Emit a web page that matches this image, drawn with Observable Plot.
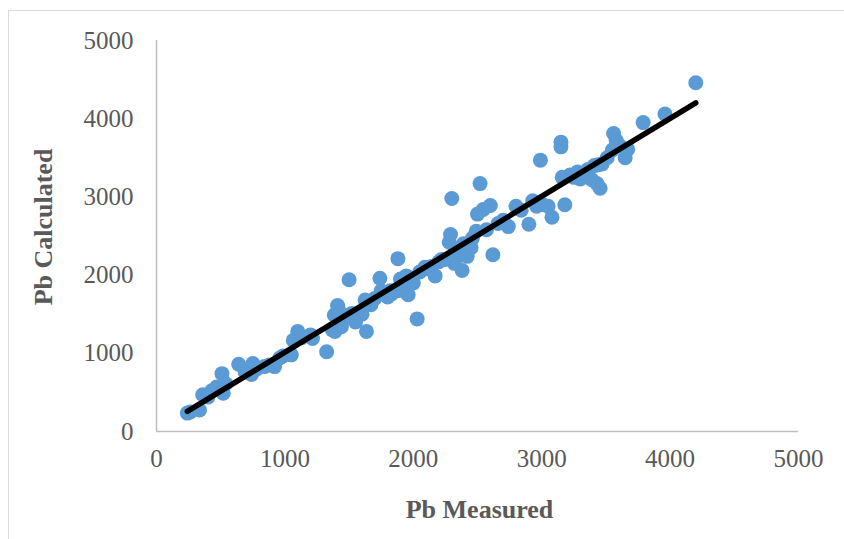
<!DOCTYPE html>
<html>
<head>
<meta charset="utf-8">
<script src="https://cdn.jsdelivr.net/npm/d3@7"></script>
<script src="https://cdn.jsdelivr.net/npm/@observablehq/plot@0.6"></script>
<style>
  html, body { margin: 0; padding: 0; background: #fff; overflow: hidden; }
  #wrap { position: relative; width: 844px; height: 539px; overflow: hidden; }
  #frame { position: absolute; left: 8px; top: 10px; width: 900px; height: 600px; border: 1px solid #d9d9d9; box-sizing: border-box; }
  #chart { position: absolute; left: 0; top: 0; }
</style>
</head>
<body>
<div id="wrap"><div id="frame"></div><div id="chart"></div></div>
<script>
const pbMeasured = [240,262,335,360,400,430,470,520,510,540,640,690,740,750,780,840,880,920,960,985,
  1050,1065,1100,1130,1200,1215,1325,1370,1390,1385,1410,1420,1440,1470,1500,1520,1550,1600,1625,1635,
  1670,1740,1750,1780,1800,1830,1880,1880,1900,1920,1945,1960,1985,2000,2030,2050,2090,2140,2170,2200,
  2250,2280,2290,2300,2320,2350,2380,2390,2420,2450,2490,2500,2520,2545,2570,2600,2620,2660,2740,2800,
  2840,2900,2930,2960,2990,3010,3050,3080,3150,3150,3160,3180,3220,3280,3300,3350,3390,3410,3440,3430,
  3455,3510,3550,3560,3580,3610,3650,3670,3790,3960,4200,
  2220,2330,2360,2410,2460,1950,1700,1820,2100,2700,3360,3470,3250];
const pbCalculated = [235,250,275,470,440,520,570,490,740,610,860,760,730,870,800,830,850,830,940,965,
  980,1165,1280,1200,1235,1190,1020,1300,1280,1490,1610,1550,1340,1450,1940,1510,1400,1500,1680,1280,
  1620,1960,1800,1770,1720,1760,2210,1800,1950,1880,1990,1750,1960,1900,1440,2040,2100,2110,1990,2170,
  2200,2420,2520,2980,2150,2280,2060,2400,2240,2350,2560,2780,3170,2840,2580,2890,2260,2660,2620,2880,
  2830,2650,2950,2880,3470,2900,2880,2740,3700,3640,3250,2900,3280,3320,3230,3290,3220,3400,3410,3170,
  3110,3500,3600,3810,3720,3650,3500,3610,3950,4060,4460,
  2200,2330,2250,2300,2470,1850,1700,1800,2080,2700,3350,3420,3250];
const xTicks = [0,1000,2000,3000,4000,5000];
const yTicks = [0,1000,2000,3000,4000,5000];
const xTitle = "Pb Measured";
const yTitle = "Pb Calculated";

const data = pbMeasured.map((x, i) => ({x, y: pbCalculated[i]}));
const textColor = "#595959";
const fontFam = "'Liberation Serif', 'Times New Roman', serif";

const chart = Plot.plot({
  width: 844,
  height: 539,
  marginLeft: 156,
  marginRight: 46,
  marginTop: 40,
  marginBottom: 108,
  style: { fontFamily: fontFam, fontSize: "25px", color: textColor, background: "transparent", overflow: "visible" },
  x: { domain: [0, 5000] },
  y: { domain: [0, 5000] },
  marks: [
    Plot.axisX({ ticks: xTicks, tickSize: 0, tickPadding: 18, label: null, fontSize: 25, tickFormat: d => String(d) }),
    Plot.axisY({ ticks: yTicks, tickSize: 0, tickPadding: 23, label: null, fontSize: 25, tickFormat: d => String(d) }),
    Plot.ruleX([0], { stroke: "#bfbfbf", strokeWidth: 1.5 }),
    Plot.ruleY([0], { x1: 0, x2: 5000, stroke: "#bfbfbf", strokeWidth: 1.5 }),
    Plot.dot(data, { x: "x", y: "y", r: 7.5, fill: "#5B9BD5", stroke: "none" }),
    Plot.linearRegressionY(data, { x: "x", y: "y", ci: 0, stroke: "#000", strokeWidth: 5.5, strokeLinecap: "round" }),
    Plot.text([xTitle], { frameAnchor: "bottom", dy: 86, dx: 2, text: d => d, fontSize: 26, fontWeight: "bold", fill: textColor }),
    Plot.text([yTitle], { frameAnchor: "left", dx: -113, dy: -9, rotate: -90, textAnchor: "middle", text: d => d, fontSize: 26, fontWeight: "bold", fill: textColor })
  ]
});
document.getElementById("chart").appendChild(chart);
</script>
</body>
</html>
